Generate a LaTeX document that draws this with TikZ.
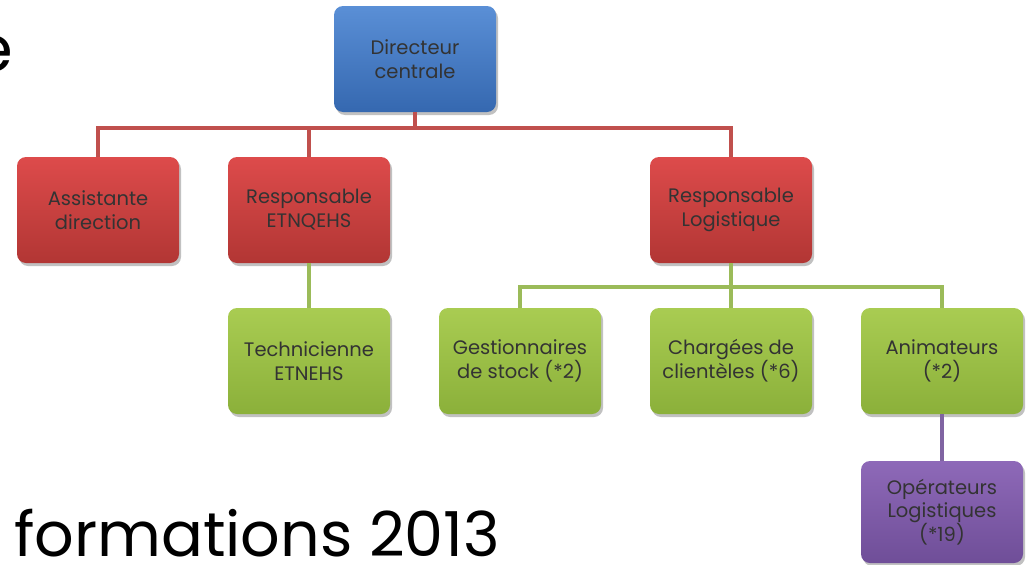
\documentclass[tikz,border=0pt]{standalone}
\usepackage{fontspec}
\setmainfont{Poppins}
\usetikzlibrary{shadows}
\definecolor{txt}{HTML}{333333}
\definecolor{bluetop}{HTML}{5A8FD6}
\definecolor{bluebot}{HTML}{3568B0}
\definecolor{redtop}{HTML}{DD4B4B}
\definecolor{redbot}{HTML}{B23634}
\definecolor{greentop}{HTML}{A9CC52}
\definecolor{greenbot}{HTML}{8BB03A}
\definecolor{purptop}{HTML}{8E69B8}
\definecolor{purpbot}{HTML}{6F4E98}
\definecolor{redline}{HTML}{C0504D}
\definecolor{greenline}{HTML}{9BBB59}
\definecolor{purpline}{HTML}{8064A2}
\tikzset{
  box/.style={rounded corners=9pt, minimum width=162pt, minimum height=106pt,
    align=center, text=txt, font=\fontsize{19.5}{24}\selectfont, inner sep=2pt,
    drop shadow={shadow xshift=2pt, shadow yshift=-3pt, opacity=0.35, fill=black!70}},
  bluebox/.style={box, top color=bluetop, bottom color=bluebot},
  redbox/.style={box, top color=redtop, bottom color=redbot},
  greenbox/.style={box, top color=greentop, bottom color=greenbot},
  purpbox/.style={box, top color=purptop, bottom color=purpbot},
  rl/.style={draw=redline, line width=4pt},
  gl/.style={draw=greenline, line width=4pt},
  pl/.style={draw=purpline, line width=4pt},
}
\begin{document}
\begin{tikzpicture}[x=1pt,y=-1pt]
\useasboundingbox (0,0) rectangle (1026,565);
\clip (0,0) rectangle (1026,565);
\coordinate (bus1) at (415,128);
\coordinate (bus2) at (731,287);
\node[bluebox] (dir) at (415,59) {Directeur\\centrale};
\node[redbox] (assist) at (98,210) {Assistante\\direction};
\node[redbox] (rqehs) at (309,210) {Responsable\\ETNQEHS};
\node[redbox] (rlog) at (731,210) {Responsable\\Logistique};
\node[greenbox] (tech) at (309,361) {Technicienne\\ETNEHS};
\node[greenbox] (gest) at (520,361) {Gestionnaires\\de stock (*2)};
\node[greenbox] (charg) at (731,361) {Chargées de\\clientèles (*6)};
\node[greenbox] (anim) at (942,361) {Animateurs\\(*2)};
\node[purpbox, minimum height=102pt, font=\fontsize{19.5}{23}\selectfont] (oper) at (942,512) {Opérateurs\\Logistiques\\(*19)};
\draw[rl] (dir.south) -- (bus1);
\draw[rl] (assist.north) |- (bus1);
\draw[rl] (rqehs.north) |- (bus1);
\draw[rl] (rlog.north) |- (bus1);
\draw[gl] (rqehs.south) -- (tech.north);
\draw[gl] (rlog.south) -- (bus2);
\draw[gl] (gest.north) |- (bus2);
\draw[gl] (charg.north) |- (bus2);
\draw[gl] (anim.north) |- (bus2);
\draw[pl] (anim.south) -- (oper.north);
\node[anchor=base west, inner sep=0pt, font=\fontsize{62}{62}\selectfont] (title) at (14,556) {formations 2013};
\node[anchor=base east, inner sep=0pt, font=\fontsize{64}{64}\selectfont] (cut) at (13,71) {e};
\end{tikzpicture}
\end{document}
